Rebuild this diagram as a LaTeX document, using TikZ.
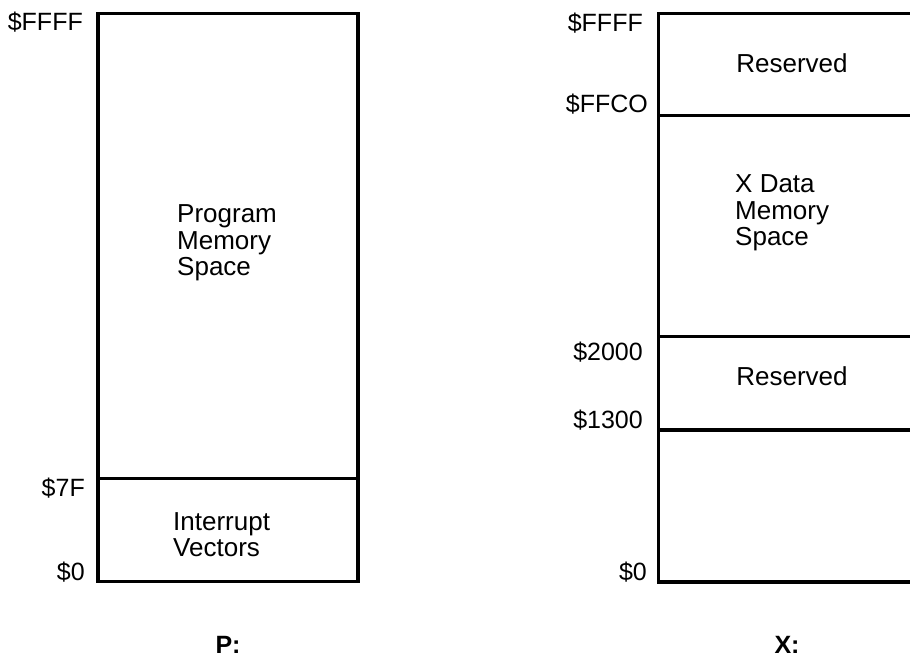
\documentclass[tikz,border=0pt]{standalone}
\usepackage{fontspec}
\setmainfont{Liberation Sans}
\usetikzlibrary{positioning}

\begin{document}
\begin{tikzpicture}[
      x=1pt, y=-1pt,
      font=\fontsize{26}{26.3}\selectfont,
      region/.style={rectangle, draw, line width=3.3pt, anchor=north west,
      inner sep=0pt, outer sep=0pt},
      addr/.style={anchor=base east, inner sep=0pt, font=\fontsize{25}{26}\selectfont},
      inside/.style={align=left, inner sep=0pt},
      caption/.style={inner sep=0pt, font=\fontsize{25}{26}\selectfont\bfseries}
    ]
    \clip (0,0) rectangle (910,658);

    % P memory map
    \node [region, minimum width=260pt, minimum height=465pt] (pmain) at (98,13.3) {};
    \node [region, minimum width=260pt, minimum height=103.4pt] (pvec) at (98,478.3) {};
    \node [inside, anchor=west] (ptext) at (177,243) {Program\\Memory\\Space};
    \node [inside, anchor=west] (vtext) at (173,535) {Interrupt\\Vectors};

    % X memory map
    \node [region, minimum width=272pt, minimum height=102.4pt] (xres) at (658.3,13.3) {};
    \node [region, minimum width=272pt, minimum height=221pt] (xdata) at (658.3,115.7) {};
    \node [region, minimum width=272pt, minimum height=93.3pt] (xres2) at (658.3,336.7) {};
    \node [region, minimum width=272pt, minimum height=152pt] (xlow) at (658.3,430) {};
    \node [inside] (rtext) at (792,63) {Reserved};
    \node [inside, anchor=west] (xtext) at (735,213) {X Data\\Memory\\Space};
    \node [inside] (rtext2) at (792,376) {Reserved};

    % Addresses
    \node [addr] (pffff) at (83,31) {\$FFFF};
    \node [addr] (p7f) at (85,496) {\$7F};
    \node [addr] (p0) at (85,580) {\$0};
    \node [addr] (xffff) at (643,31.5) {\$FFFF};
    \node [addr] (xffc0) at (648,113) {\$FFCO};
    \node [addr] (x2000) at (643,360) {\$2000};
    \node [addr] (x1300) at (643,428) {\$1300};
    \node [addr] (x0) at (647,580) {\$0};

    % Captions
    \node [caption, anchor=base] (pcap) at (228,653) {P:};
    \node [caption, anchor=base] (xcap) at (787,653) {X:};
  \end{tikzpicture}
\end{document}
